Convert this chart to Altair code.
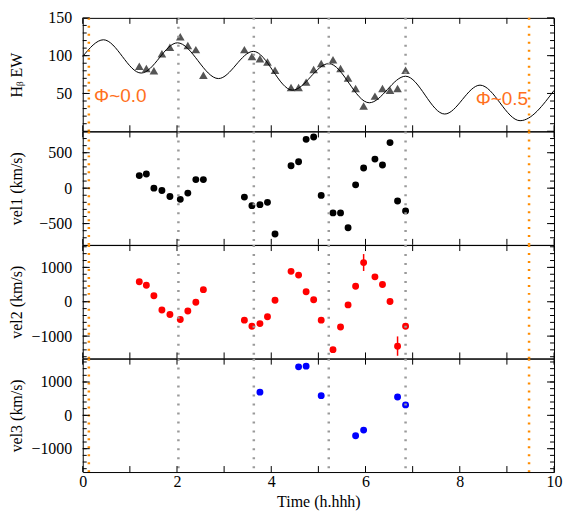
import altair as alt
import pandas as pd

W = 473
H = 113.8
SERIF = "Liberation Serif"

# observation times (h)
t_obs = [1.20, 1.35, 1.51, 1.68, 1.85, 2.07, 2.23, 2.40, 2.56,
         3.43, 3.59, 3.76, 3.92, 4.08,
         4.42, 4.58, 4.74, 4.90, 5.06,
         5.31, 5.47, 5.63, 5.79, 5.96,
         6.20, 6.36, 6.52, 6.68, 6.85]
hb_ew = [86, 83, 80, 102.6, 111, 125, 113.6, 108, 74,
         108, 99, 96, 91.7, 80.7,
         58, 58, 65, 81.6, 89.5,
         94.7, 83, 70.6, 56.6, 33.3,
         46.5, 56.6, 54.4, 56.6, 80.7]
vel1 = [177, 200, 0, -33, -117, -158, -70, 121, 121,
        -126, -247, -233, -200, -647,
        317, 373, 689, 722, -102,
        -349, -349, -559, 47, 284,
        410, 326, 643, -182, -321]
vel2 = [580, 480, 175, -240, -370, -518, -270, -15, 352,
        -536, -713, -636, -438, 44,
        885, 776, 293, 56, -536,
        -1394, -734, -92, 450, 1140,
        725, 500, 6, -1297, -713]
t_vel3 = [3.76, 4.58, 4.74, 5.06, 5.79, 5.96, 6.68, 6.85]
vel3 = [696, 1454, 1475, 590, -611, -442, 549, 313]

err_t = [5.96, 6.68]
err_lo = [894, -1572]
err_hi = [1388, -1009]

# model curve (extrema)
model_t = [0.0, 0.44, 1.24, 2.01, 2.88, 3.62, 4.45, 5.22, 6.08, 6.85, 7.68, 8.43, 9.28, 10.0]
model_ew = [99, 121, 77, 117, 69.7, 105.7, 54.4, 89.5, 37.7, 72.8, 22.8, 61, 14, 54]

gray_lines = [2.03, 3.63, 5.22, 6.85]
orange_lines = [0.13, 9.47]

phase_t = [0.24, 9.45]
phase_v = [46, 42]
phase_text = ["Φ~0.0", "Φ~0.5"]

x_ticks = list(range(0, 11))
x_labels = [0, 2, 4, 6, 8, 10]

panels_cfg = [
    dict(dom=[0, 150], major=[0, 50, 100, 150], minor=list(range(10, 150, 10)), labels=[50, 100, 150],
         title="H\u1D66 EW"),
    dict(dom=[-800, 800], major=[-500, 0, 500], minor=list(range(-700, 800, 100)), labels=[-500, 0, 500],
         title="vel1 (km/s)"),
    dict(dom=[-1650, 1650], major=[-1000, 0, 1000], minor=list(range(-1600, 1700, 200)), labels=[-1000, 0, 1000],
         title="vel2 (km/s)"),
    dict(dom=[-1700, 1700], major=[-1000, 0, 1000], minor=list(range(-1600, 1700, 200)), labels=[-1000, 0, 1000],
         title="vel3 (km/s)"),
]


def xs():
    return alt.Scale(domain=[0, 10], nice=False, zero=False)


def ys(dom):
    return alt.Scale(domain=dom, nice=False, zero=False)


def yaxis(title, values):
    return alt.Axis(values=values, title=title, ticks=False, tickSize=0, domain=False, grid=False,
                    format="d", labelFlush=False, labelOverlap=False, labelPadding=11,
                    labelFont=SERIF, labelFontSize=16, labelColor="black",
                    titleFont=SERIF, titleFontSize=16, titleFontWeight="normal", titleColor="black",
                    titleX=-66, titleY=H / 2, titleBaseline="middle", titleAngle=270)


xaxis_bottom = alt.Axis(values=x_labels, title="Time (h.hhh)", ticks=False, tickSize=0, domain=False,
                        grid=False, labelFlush=False, labelPadding=2, format="d",
                        labelFont=SERIF, labelFontSize=16, labelColor="black",
                        titleFont=SERIF, titleFontSize=16, titleFontWeight="normal", titleColor="black",
                        titlePadding=4)


def frame_ticks(dom, major, minor):
    layers = []
    xt = pd.DataFrame({"t": x_ticks})
    for y0, y1 in [(H, H - 6), (0, 6)]:
        layers.append(alt.Chart(xt).mark_rule(color="black", strokeWidth=1).encode(
            x=alt.X("t:Q", scale=xs(), axis=None), y=alt.value(y0), y2=alt.value(y1)))
    for vals, L in [(major, 7), (minor, 4)]:
        d = pd.DataFrame({"v": vals})
        for x0, x1 in [(0, L), (W, W - L)]:
            layers.append(alt.Chart(d).mark_rule(color="black", strokeWidth=1).encode(
                y=alt.Y("v:Q", scale=ys(dom), axis=None), x=alt.value(x0), x2=alt.value(x1)))
    return layers


def vlines():
    g = alt.Chart(pd.DataFrame({"t": gray_lines})).mark_rule(
        color="#9a9a9a", strokeWidth=2.5, strokeDash=[2, 7]).encode(
        x=alt.X("t:Q", scale=xs(), axis=None))
    o = alt.Chart(pd.DataFrame({"t": orange_lines})).mark_rule(
        color="#ff8c00", strokeWidth=2.5, strokeDash=[2, 6]).encode(
        x=alt.X("t:Q", scale=xs(), axis=None))
    return [g, o]


panels = []
for i, cfg in enumerate(panels_cfg):
    dom = cfg["dom"]
    xax = xaxis_bottom if i == 3 else None
    layers = []
    if i == 0:
        df = pd.DataFrame({"t": t_obs, "v": hb_ew})
        prim = alt.Chart(df).mark_point(shape="triangle-up", filled=True, size=75, color="#555555",
                                         opacity=1).encode(
            x=alt.X("t:Q", scale=xs(), axis=xax),
            y=alt.Y("v:Q", scale=ys(dom), axis=yaxis(cfg["title"], cfg["labels"])))
        curve = alt.Chart(pd.DataFrame({"t": model_t, "v": model_ew})).mark_line(
            color="black", strokeWidth=1, interpolate="monotone").encode(
            x=alt.X("t:Q", scale=xs(), axis=None), y=alt.Y("v:Q", scale=ys(dom), axis=None))
        layers += [prim, curve]
        txt = pd.DataFrame({"t": phase_t, "v": phase_v, "s": phase_text})
        for k, al in [(0, "left"), (1, "right")]:
            layers.append(alt.Chart(txt.iloc[[k]]).mark_text(
                align=al, baseline="middle", font="Liberation Sans", fontSize=19, color="#ff7020").encode(
                x=alt.X("t:Q", scale=xs(), axis=None), y=alt.Y("v:Q", scale=ys(dom), axis=None),
                text="s:N"))
    elif i in (1, 2):
        vals = vel1 if i == 1 else vel2
        color = "black" if i == 1 else "#ff0000"
        df = pd.DataFrame({"t": t_obs, "v": vals})
        if i == 2:
            e = pd.DataFrame({"t": err_t, "lo": err_lo, "hi": err_hi})
            layers.append(alt.Chart(e).mark_rule(color="#ff0000", strokeWidth=1.5).encode(
                x=alt.X("t:Q", scale=xs(), axis=None),
                y=alt.Y("lo:Q", scale=ys(dom), axis=None), y2="hi:Q"))
        prim = alt.Chart(df).mark_circle(size=48, color=color, opacity=1).encode(
            x=alt.X("t:Q", scale=xs(), axis=xax),
            y=alt.Y("v:Q", scale=ys(dom), axis=yaxis(cfg["title"], cfg["labels"])))
        layers.insert(0, prim)
    else:
        df = pd.DataFrame({"t": t_vel3, "v": vel3})
        prim = alt.Chart(df).mark_circle(size=48, color="#0000ff", opacity=1).encode(
            x=alt.X("t:Q", scale=xs(), axis=xax),
            y=alt.Y("v:Q", scale=ys(dom), axis=yaxis(cfg["title"], cfg["labels"])))
        layers.append(prim)
    layers += vlines()
    layers += frame_ticks(dom, cfg["major"], cfg["minor"])
    panels.append(alt.layer(*layers).properties(width=W, height=H)
                  .resolve_axis(x="independent", y="independent"))

chart = alt.vconcat(*panels, spacing=0, bounds="flush").properties(
    background="white", padding=0
).configure_view(
    stroke="black", strokeWidth=1
).configure_axis(
    labelFont=SERIF, titleFont=SERIF, titleFontWeight="normal"
)

chart.save("out.html", embed_options={"renderer": "svg", "actions": False})
